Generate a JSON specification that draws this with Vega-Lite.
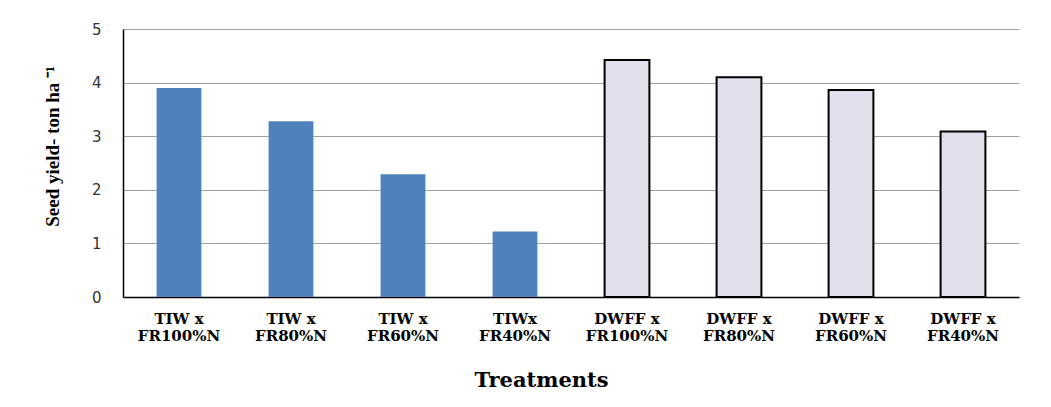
{
  "$schema": "https://vega.github.io/schema/vega-lite/v6.json",
  "width": 896,
  "height": 268,
  "autosize": {"type": "none"},
  "padding": {"left": 123, "top": 29, "right": 32, "bottom": 110},
  "background": "white",
  "data": {
    "values": [
      {"treatment": "TIW x|FR100%N", "group": "TIW", "yield": 3.9},
      {"treatment": "TIW x|FR80%N", "group": "TIW", "yield": 3.28},
      {"treatment": "TIW x|FR60%N", "group": "TIW", "yield": 2.29},
      {"treatment": "TIWx|FR40%N", "group": "TIW", "yield": 1.22},
      {"treatment": "DWFF x|FR100%N", "group": "DWFF", "yield": 4.42},
      {"treatment": "DWFF x|FR80%N", "group": "DWFF", "yield": 4.1},
      {"treatment": "DWFF x|FR60%N", "group": "DWFF", "yield": 3.86},
      {"treatment": "DWFF x|FR40%N", "group": "DWFF", "yield": 3.09}
    ]
  },
  "mark": {"type": "bar"},
  "encoding": {
    "x": {
      "field": "treatment",
      "type": "nominal",
      "sort": null,
      "scale": {"paddingInner": 0.6, "paddingOuter": 0.3},
      "axis": {
        "title": "Treatments",
        "titleFont": "DejaVu Serif",
        "titleFontWeight": "bold",
        "titleFontSize": 21,
        "titleColor": "#000",
        "titleX": 418,
        "titleY": 89,
        "titleBaseline": "alphabetic",
        "labelExpr": "split(datum.value, '|')",
        "labelAngle": 0,
        "labelFont": "DejaVu Serif",
        "labelFontWeight": "bold",
        "labelFontSize": 15,
        "labelColor": "#000",
        "labelLineHeight": 17,
        "labelBaseline": "top",
        "labelPadding": 14,
        "ticks": false,
        "domainColor": "#000",
        "domainWidth": 1.5,
        "grid": false
      }
    },
    "y": {
      "field": "yield",
      "type": "quantitative",
      "scale": {"domain": [0, 5], "nice": false},
      "axis": {
        "title": "Seed yield- ton ha ⁻¹",
        "titleFont": "Liberation Serif",
        "titleFontWeight": "bold",
        "titleFontSize": 19,
        "titleColor": "#000",
        "titleAngle": -90,
        "titleX": -71,
        "titleY": 117,
        "titleAlign": "center",
        "titleBaseline": "middle",
        "values": [0, 1, 2, 3, 4, 5],
        "labelFont": "DejaVu Sans",
        "labelFontSize": 15,
        "labelColor": "#333",
        "labelPadding": 22,
        "ticks": false,
        "domainColor": "#000",
        "domainWidth": 1.5,
        "grid": true,
        "gridColor": "#a0a0a0",
        "gridWidth": 1
      }
    },
    "color": {
      "field": "group",
      "type": "nominal",
      "scale": {"domain": ["TIW", "DWFF"], "range": ["#4f81bd", "#e4dfec"]},
      "legend": null
    },
    "stroke": {
      "field": "group",
      "type": "nominal",
      "scale": {"domain": ["TIW", "DWFF"], "range": ["#4f81bd", "#000000"]},
      "legend": null
    },
    "strokeWidth": {
      "field": "group",
      "type": "nominal",
      "scale": {"domain": ["TIW", "DWFF"], "range": [0, 2]},
      "legend": null
    }
  },
  "config": {"view": {"stroke": null}}
}
